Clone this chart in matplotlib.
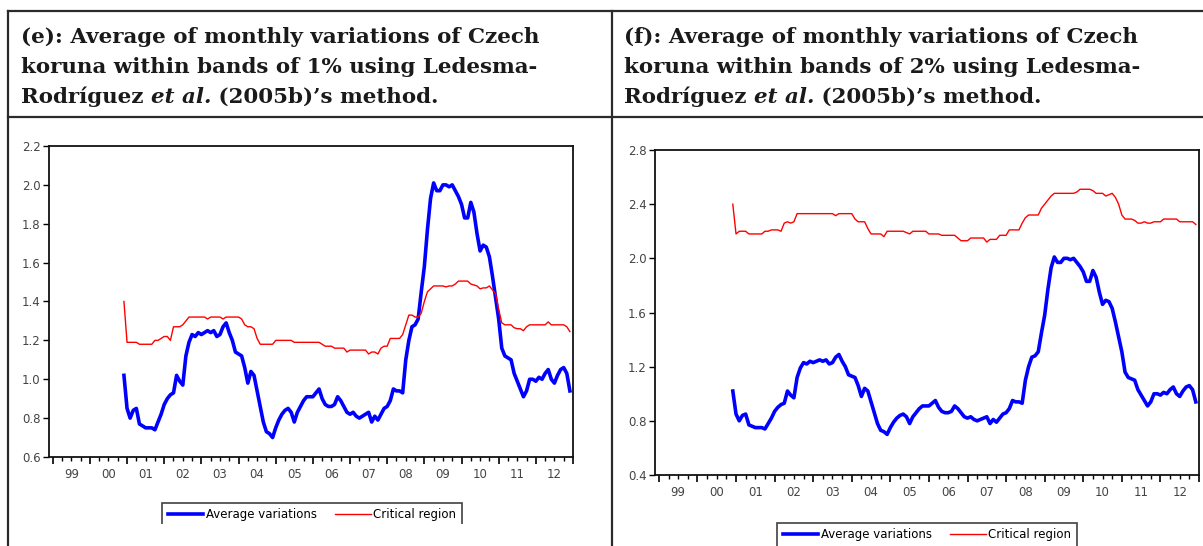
import matplotlib
matplotlib.use("Agg")
import matplotlib.pyplot as plt
import numpy as np
import pandas as pd
from matplotlib.lines import Line2D
from matplotlib.transforms import Bbox, TransformedBbox

# monthly data, Dec 2000 - Dec 2012
months = pd.date_range("2000-12-01", periods=145, freq="MS")

avg_variations = [
    1.02, 0.85, 0.80, 0.84, 0.85, 0.77, 0.76, 0.75, 0.75, 0.75,
    0.74, 0.78, 0.82, 0.87, 0.90, 0.92, 0.93, 1.02, 0.99, 0.97,
    1.12, 1.19, 1.23, 1.22, 1.24, 1.23, 1.24, 1.25, 1.24, 1.25,
    1.22, 1.23, 1.27, 1.29, 1.24, 1.20, 1.14, 1.13, 1.12, 1.06,
    0.98, 1.04, 1.02, 0.94, 0.86, 0.78, 0.73, 0.72, 0.70, 0.75,
    0.79, 0.82, 0.84, 0.85, 0.83, 0.78, 0.83, 0.86, 0.89, 0.91,
    0.91, 0.91, 0.93, 0.95, 0.90, 0.87, 0.86, 0.86, 0.87, 0.91,
    0.89, 0.86, 0.83, 0.82, 0.83, 0.81, 0.80, 0.81, 0.82, 0.83,
    0.78, 0.81, 0.79, 0.82, 0.85, 0.86, 0.89, 0.95, 0.94, 0.94,
    0.93, 1.10, 1.20, 1.27, 1.28, 1.31, 1.45, 1.58, 1.77, 1.93,
    2.01, 1.97, 1.97, 2.00, 2.00, 1.99, 2.00, 1.97, 1.94, 1.90,
    1.83, 1.83, 1.91, 1.86, 1.75, 1.66, 1.69, 1.68, 1.63, 1.53,
    1.42, 1.31, 1.16, 1.12, 1.11, 1.10, 1.03, 0.99, 0.95, 0.91,
    0.94, 1.00, 1.00, 0.99, 1.01, 1.00, 1.03, 1.05, 1.00, 0.98,
    1.02, 1.05, 1.06, 1.03, 0.94,
]

critical_1pct = [
    1.40, 1.19, 1.19, 1.19, 1.19, 1.18, 1.18, 1.18, 1.18, 1.18,
    1.20, 1.20, 1.21, 1.22, 1.22, 1.20, 1.27, 1.27, 1.27, 1.28,
    1.30, 1.32, 1.32, 1.32, 1.32, 1.32, 1.32, 1.31, 1.32, 1.32,
    1.32, 1.32, 1.31, 1.32, 1.32, 1.32, 1.32, 1.32, 1.31, 1.28,
    1.27, 1.27, 1.26, 1.21, 1.18, 1.18, 1.18, 1.18, 1.18, 1.20,
    1.20, 1.20, 1.20, 1.20, 1.20, 1.19, 1.19, 1.19, 1.19, 1.19,
    1.19, 1.19, 1.19, 1.19, 1.18, 1.17, 1.17, 1.17, 1.16, 1.16,
    1.16, 1.16, 1.14, 1.15, 1.15, 1.15, 1.15, 1.15, 1.15, 1.13,
    1.14, 1.14, 1.13, 1.16, 1.17, 1.17, 1.21, 1.21, 1.21, 1.21,
    1.23, 1.28, 1.33, 1.33, 1.32, 1.32, 1.34, 1.40, 1.45, 1.465,
    1.48, 1.48, 1.48, 1.48, 1.475, 1.48, 1.48, 1.49, 1.505, 1.505,
    1.505, 1.505, 1.49, 1.485, 1.48, 1.465, 1.47, 1.47, 1.48, 1.46,
    1.44, 1.36, 1.29, 1.28, 1.28, 1.28, 1.265, 1.26, 1.26, 1.25,
    1.27, 1.28, 1.28, 1.28, 1.28, 1.28, 1.28, 1.295, 1.28, 1.28,
    1.28, 1.28, 1.28, 1.27, 1.245,
]

critical_2pct = [
    2.40, 2.18, 2.20, 2.20, 2.20, 2.18, 2.18, 2.18, 2.18, 2.18,
    2.20, 2.20, 2.21, 2.21, 2.21, 2.20, 2.26, 2.27, 2.26, 2.27,
    2.33, 2.33, 2.33, 2.33, 2.33, 2.33, 2.33, 2.33, 2.33, 2.33,
    2.33, 2.33, 2.315, 2.33, 2.33, 2.33, 2.33, 2.33, 2.29, 2.27,
    2.27, 2.27, 2.22, 2.18, 2.18, 2.18, 2.18, 2.16, 2.20, 2.20,
    2.20, 2.20, 2.20, 2.20, 2.19, 2.18, 2.20, 2.20, 2.20, 2.20,
    2.20, 2.18, 2.18, 2.18, 2.18, 2.17, 2.17, 2.17, 2.17, 2.17,
    2.15, 2.13, 2.13, 2.13, 2.15, 2.15, 2.15, 2.15, 2.15, 2.12,
    2.14, 2.14, 2.14, 2.17, 2.17, 2.17, 2.21, 2.21, 2.21, 2.21,
    2.26, 2.30, 2.32, 2.32, 2.32, 2.32, 2.37, 2.40, 2.43, 2.46,
    2.48, 2.48, 2.48, 2.48, 2.48, 2.48, 2.48, 2.49, 2.51, 2.51,
    2.51, 2.51, 2.50, 2.48, 2.48, 2.48, 2.46, 2.47, 2.48, 2.45,
    2.40, 2.32, 2.29, 2.29, 2.29, 2.28, 2.26, 2.26, 2.27, 2.26,
    2.26, 2.27, 2.27, 2.27, 2.29, 2.29, 2.29, 2.29, 2.29, 2.27,
    2.27, 2.27, 2.27, 2.27, 2.25,
]

year_labels = ["99", "00", "01", "02", "03", "04", "05", "06",
               "07", "08", "09", "10", "11", "12"]

titles = [
    ["(e): Average of monthly variations of Czech",
     "koruna within bands of 1% using Ledesma-"],
    ["(f): Average of monthly variations of Czech",
     "koruna within bands of 2% using Ledesma-"],
]

W, H = 1203, 546
fig = plt.figure(figsize=(W / 100, H / 100), dpi=100)


def fx(x):
    return x / W


def fy(y):
    return 1 - y / H


# table grid
line_kw = dict(color="#2b2b2b", linewidth=1.6, transform=fig.transFigure)
fig.add_artist(Line2D([fx(7.5), 1], [fy(11), fy(11)], **line_kw))
fig.add_artist(Line2D([fx(7.5), 1], [fy(117), fy(117)], **line_kw))
fig.add_artist(Line2D([fx(7.5), fx(7.5)], [fy(11), 0], **line_kw))
fig.add_artist(Line2D([fx(612), fx(612)], [fy(11), 0], **line_kw))

# header text
serif = "DejaVu Serif"
hsize = 15.4
renderer = fig.canvas.get_renderer()
for x0, lines in zip([21, 624], titles):
    fig.text(fx(x0), fy(43), lines[0], fontsize=hsize, fontweight="bold",
             family=serif, color="#1a1a1a", va="baseline")
    fig.text(fx(x0), fy(73), lines[1], fontsize=hsize, fontweight="bold",
             family=serif, color="#1a1a1a", va="baseline")
    xpos = fx(x0)
    for piece, style in [("Rodríguez ", "normal"), ("et al.", "italic"),
                         (" (2005b)’s method.", "normal")]:
        t = fig.text(xpos, fy(103), piece, fontsize=hsize, fontweight="bold",
                     style=style, family=serif, color="#1a1a1a", va="baseline")
        bb = t.get_window_extent(renderer=renderer)
        xpos += bb.width / W

t_dec = months.year + (months.month - 1) / 12.0
years = np.arange(1999, 2014)
quarters = np.arange(1999, 2013.01, 0.25)


def draw_panel(rect, red, yticks, ylim, leg_top, leg_cx, clip_y):
    ax = fig.add_axes(rect)
    ax.plot(t_dec, avg_variations, color="#0000ff", linewidth=2.6,
            label="Average variations")
    ax.plot(t_dec, red, color="#ff0000", linewidth=1.0,
            label="Critical region")
    ax.set_xlim(1998.9, 2013.0)
    ax.set_ylim(*ylim)
    ax.set_yticks(yticks)
    ax.set_yticklabels([f"{v:.1f}" for v in yticks])
    ax.set_xticks(years)
    ax.set_xticklabels([])
    ax.set_xticks(quarters, minor=True)
    ax.tick_params(axis="x", which="major", direction="out", length=5,
                   width=1.2)
    ax.tick_params(axis="x", which="minor", direction="out", length=3,
                   width=1.0)
    ax.tick_params(axis="y", direction="out", length=4, width=1.0,
                   labelsize=8.5, labelcolor="#444444", pad=2)
    for s in ax.spines.values():
        s.set_linewidth(1.3)
        s.set_color("#111111")

    sec = ax.secondary_xaxis("bottom")
    sec.set_xticks(years[:-1] + 0.5)
    sec.set_xticklabels(year_labels)
    sec.tick_params(length=0, labelsize=8.5, labelcolor="#444444", pad=8)
    sec.spines["bottom"].set_visible(False)

    leg = fig.legend(handles=ax.get_lines(), loc="upper center",
                     bbox_to_anchor=(fx(leg_cx), fy(leg_top)), ncol=2,
                     fontsize=8.5, frameon=True, fancybox=False,
                     edgecolor="#111111", handlelength=3.0,
                     columnspacing=1.6, handletextpad=0.2, borderpad=0.45,
                     borderaxespad=0)
    leg.get_frame().set_linewidth(1.2)
    leg.get_frame().set_clip_box(
        TransformedBbox(Bbox([[0, fy(clip_y)], [1, 1]]), fig.transFigure))
    leg.get_frame().set_clip_on(True)
    return ax


draw_panel([fx(49), fy(457), fx(573 - 49), fy(146) - fy(457)],
           critical_1pct, np.arange(0.6, 2.21, 0.2), (0.6, 2.2),
           503, 312, 524)
draw_panel([fx(655), fy(475), fx(1199 - 655), fy(150) - fy(475)],
           critical_2pct, np.arange(0.4, 2.81, 0.4), (0.4, 2.8),
           523, 927, 560)

fig.savefig("out.png", dpi=100)
